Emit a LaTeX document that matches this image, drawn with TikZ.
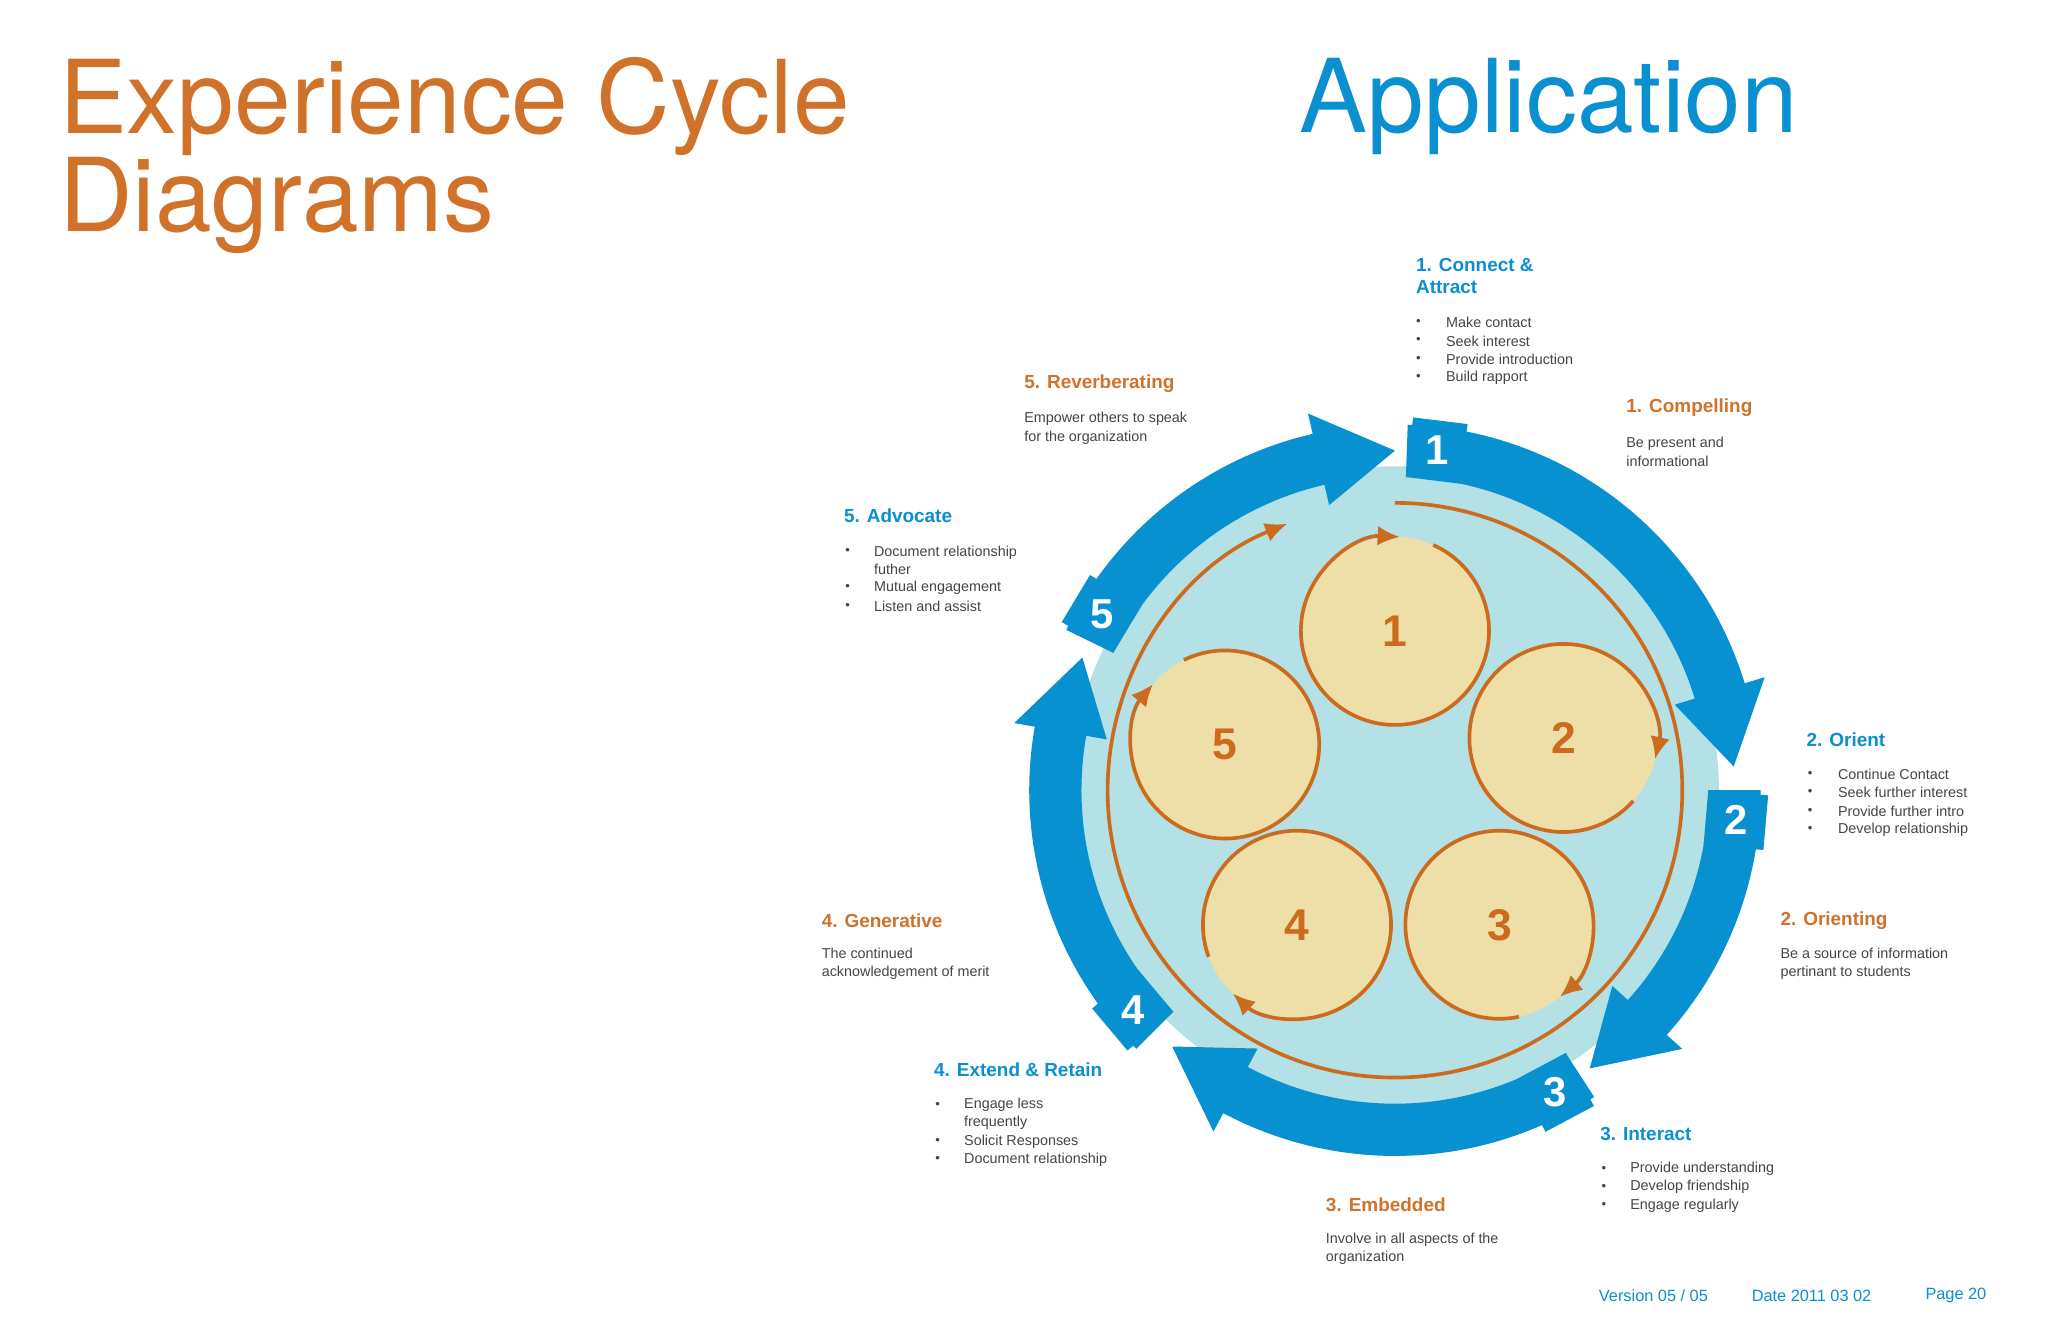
\documentclass[tikz,border=0pt]{standalone}
\usepackage{fontspec}
\setmainfont{Liberation Sans}
\newfontfamily\titlefont{TeX Gyre Heros}
\usetikzlibrary{arrows.meta}
\definecolor{tblue}{HTML}{0A90D0}
\definecolor{rblue}{HTML}{0891D1}
\definecolor{lblue}{HTML}{B3E1E6}
\definecolor{torange}{HTML}{D0722A}
\definecolor{oline}{HTML}{CC6A1E}
\definecolor{cfill}{HTML}{EEDEA8}
\definecolor{tgray}{HTML}{454545}
\tikzset{
 head/.style={anchor=west,font=\bfseries\fontsize{14.5}{18}\selectfont,inner sep=0},
 hb/.style={head,text=tblue},
 ho/.style={head,text=torange},
 body/.style={anchor=west,font=\fontsize{11}{14}\selectfont,text=tgray,inner sep=0,align=left},
 bul/.style={anchor=west,font=\fontsize{10}{14}\selectfont,text=tgray,inner sep=0},
 oarc/.style={draw=oline,line width=2.8pt,-{Latex[length=17pt,width=15pt]}},
 num/.style={font=\bfseries\fontsize{34}{34}\selectfont,text=oline},
 wnum/.style={font=\bfseries\fontsize{32}{32}\selectfont,text=white},
 foot/.style={anchor=west,font=\fontsize{12.5}{14}\selectfont,text=tblue,inner sep=0},
}
\newcommand{\bigarr}[3]{% start, tip, label
 \fill[rblue] (#1:280) arc[start angle=#1,end angle=#2+13,radius=280] -- (#2+13:296) -- (#2:260) -- (#2+13:224) -- (#2+13:240) arc[start angle=#2+13,end angle=#1,radius=240] -- cycle;
 \fill[rblue,rotate=#1-5] (262,0) ++(-23,-21) rectangle ++(46,42);
 \node[wnum] (lab#3) at (#1-5:262) {#3};
}
\begin{document}
\begin{tikzpicture}[x=1pt,y=1pt]
\useasboundingbox (0,0) rectangle (1568,-1015);
\fill[white] (0,0) rectangle (1568,-1015);
% titles
\node[anchor=north west,inner sep=0,align=left,text=torange,font=\titlefont\fontsize{78}{75}\selectfont] (title) at (45,-44) {Experience Cycle\\Diagrams};
\node[anchor=north west,inner sep=0,text=tblue,font=\titlefont\fontsize{78}{75}\selectfont] (app) at (995,-44) {Application};
% diagram
\begin{scope}[shift={(1068,-605)}]
 \fill[lblue] (0,0) circle (248);
 \bigarr{88}{4}{1}
 \bigarr{0}{-55}{2}
 \bigarr{-57}{-131}{3}
 \bigarr{-135}{-203}{4}
 \bigarr{154}{90}{5}
 \draw[oarc] (90:220) arc[start angle=90,end angle=-248,radius=220];
 % small circles
 \coordinate (c1) at (0,122);
 \coordinate (c2) at (129,40);
 \coordinate (c3) at (80,-103);
 \coordinate (c4) at (-75,-103);
 \coordinate (c5) at (-130,35);
 \foreach \c in {1,...,5} \fill[cfill] (c\c) circle (72);
 \draw[oarc] (c1) ++(66:72) arc[start angle=66,end angle=-273,radius=72];
 \draw[oarc] (c2) ++(-42:72) arc[start angle=-42,end angle=-373,radius=72];
 \draw[oarc] (c3) ++(-78:72) arc[start angle=-78,end angle=-410,radius=72];
 \draw[oarc] (c4) ++(-160:72) arc[start angle=-160,end angle=-493,radius=72];
 \draw[oarc] (c5) ++(116:72) arc[start angle=116,end angle=-220,radius=72];
 \foreach \c in {1,...,5} \node[num] (n\c) at (c\c) {\c};
\end{scope}
% texts
\node[hb,align=left] (h1) at (1084,-211) {1. Connect \&\\[-1pt]Attract};
\foreach \t [count=\i] in {Make contact,Seek interest,Provide introduction,Build rapport}{
 \node[bul] (b1\i) at (1084,-247-14*\i+14) {\textbullet};
 \node[body] (t1\i) at (1107,-247-14*\i+14) {\t};}
\node[ho] (h1o) at (1245,-312) {1. Compelling};
\node[body] (t1o) at (1245,-346) {Be present and\\informational};
\node[hb] (h2) at (1383,-566) {2. Orient};
\foreach \t [count=\i] in {Continue Contact,Seek further interest,Provide further intro,Develop relationship}{
 \node[bul] (b2\i) at (1384,-593-14*\i+14) {\textbullet};
 \node[body] (t2\i) at (1407,-593-14*\i+14) {\t};}
\node[ho] (h2o) at (1363,-705) {2. Orienting};
\node[body] (t2o) at (1363,-738) {Be a source of information\\pertinant to students};
\node[hb] (h3) at (1225,-868) {3. Interact};
\foreach \t [count=\i] in {Provide understanding,Develop friendship,Engage regularly}{
 \node[bul] (b3\i) at (1226,-895-14*\i+14) {\textbullet};
 \node[body] (t3\i) at (1248,-895-14*\i+14) {\t};}
\node[ho] (h3o) at (1015,-922) {3. Embedded};
\node[body] (t3o) at (1015,-956) {Involve in all aspects of the\\organization};
\node[hb] (h4) at (715,-819) {4. Extend \& Retain};
\node[bul] (b41) at (716,-846) {\textbullet};
\node[body] (t41) at (738,-853) {Engage less\\frequently};
\node[bul] (b42) at (716,-874) {\textbullet};
\node[body] (t42) at (738,-874) {Solicit Responses};
\node[bul] (b43) at (716,-888) {\textbullet};
\node[body] (t43) at (738,-888) {Document relationship};
\node[ho] (h4o) at (629,-705) {4. Generative};
\node[body] (t4o) at (629,-738) {The continued\\acknowledgement of merit};
\node[hb] (h5) at (646,-395) {5. Advocate};
\node[bul] (b51) at (647,-422) {\textbullet};
\node[body] (t51) at (669,-429) {Document relationship\\futher};
\node[bul] (b52) at (647,-450) {\textbullet};
\node[body] (t52) at (669,-450) {Mutual engagement};
\node[bul] (b53) at (647,-464) {\textbullet};
\node[body] (t53) at (669,-464) {Listen and assist};
\node[ho] (h5o) at (784,-294) {5. Reverberating};
\node[body] (t5o) at (784,-328) {Empower others to speak\\for the organization};
% footer
\node[foot] (f1) at (1224,-992) {Version 05 / 05};
\node[foot] (f2) at (1341,-992) {Date 2011 03 02};
\node[foot] (f3) at (1474,-992) {Page 20};
\end{tikzpicture}
\end{document}
